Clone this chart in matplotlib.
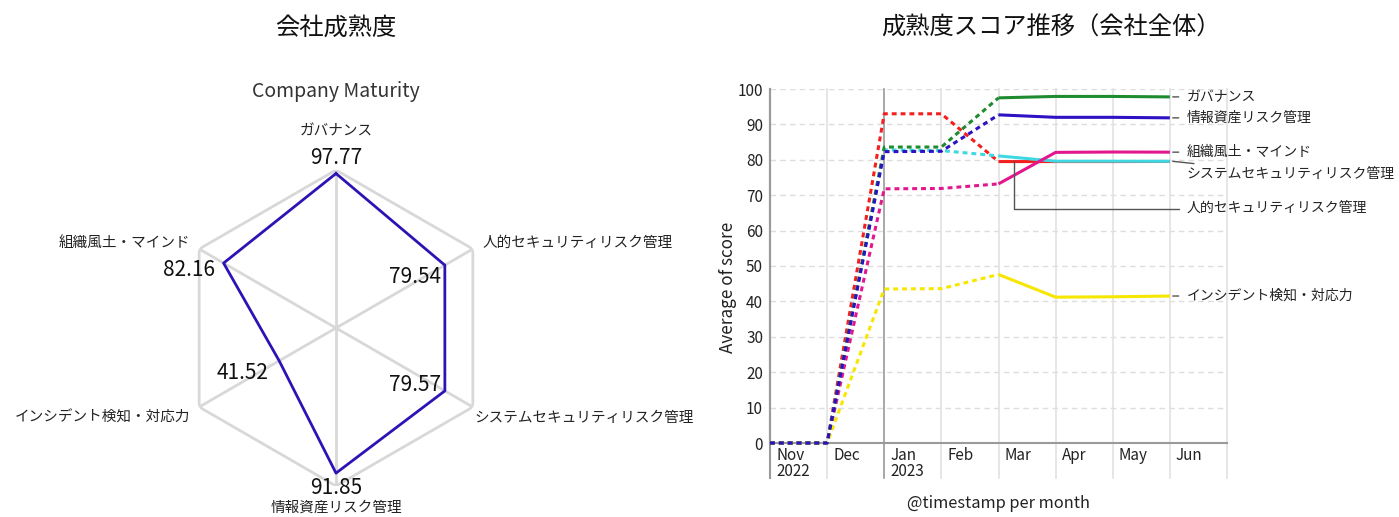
import numpy as np
import matplotlib
matplotlib.use("Agg")
import matplotlib.pyplot as plt

plt.rcParams['font.family'] = ['Noto Sans CJK JP', 'DejaVu Sans']

# ---------------- data ----------------
radar_categories = ['ガバナンス', '人的セキュリティリスク管理', 'システムセキュリティリスク管理',
                    '情報資産リスク管理', 'インシデント検知・対応力', '組織風土・マインド']
radar_values = [97.77, 79.54, 79.57, 91.85, 41.52, 82.16]

months = ['Nov\n2022', 'Dec', 'Jan\n2023', 'Feb', 'Mar', 'Apr', 'May', 'Jun']
series_names = ['人的セキュリティリスク管理', 'システムセキュリティリスク管理', '組織風土・マインド',
                'インシデント検知・対応力', 'ガバナンス', '情報資産リスク管理']
s_jinteki = [0, 0, 93.0, 93.0, 79.5, 79.5, 79.5, 79.54]
s_system = [0, 0, 82.8, 82.6, 81.1, 79.6, 79.6, 79.57]
s_soshiki = [0, 0, 71.8, 71.9, 73.2, 82.1, 82.2, 82.16]
s_incident = [0, 0, 43.5, 43.6, 47.6, 41.2, 41.3, 41.52]
s_gov = [0, 0, 83.6, 83.6, 97.5, 97.9, 97.9, 97.77]
s_joho = [0, 0, 82.3, 82.4, 92.7, 92.0, 92.0, 91.85]
series_values = [s_jinteki, s_system, s_soshiki, s_incident, s_gov, s_joho]
series_colors = ['#f41e1e', '#3fd8e2', '#e2178d', '#f7e700', '#1f8b2f', '#2c12c2']
label_y = [66.1, 76.0, 82.16, 41.52, 97.77, 91.85]

# ---------------- figure ----------------
fig = plt.figure(figsize=(13.99, 5.17), dpi=100)

fig.text(336 / 1399, 1 - 28 / 517, '会社成熟度', ha='center', va='center', fontsize=17.5, color='#111')
fig.text(1051 / 1399, 1 - 28 / 517, '成熟度スコア推移（会社全体）', ha='center', va='center',
         fontsize=17.5, color='#111')
fig.text(336 / 1399, 1 - 91 / 517, 'Company Maturity', ha='center', va='center', fontsize=14,
         color='#333')

# ---------------- radar ----------------
R = 158
axr = fig.add_axes([(336 - R) / 1399, (189 - R) / 517, 2 * R / 1399, 2 * R / 517], projection='polar')
axr.set_theta_zero_location('N')
axr.set_theta_direction(-1)
axr.set_ylim(0, 100)
axr.axis('off')
n = len(radar_categories)
theta = np.arange(n) * 2 * np.pi / n
th_closed = np.append(theta, theta[0])
axr.plot(th_closed, [100] * (n + 1), color='#d8d8d8', lw=2, zorder=1)
for t in theta:
    axr.plot([t, t], [0, 100], color='#d8d8d8', lw=2, zorder=1)
vals_closed = radar_values + [radar_values[0]]
axr.plot(th_closed, vals_closed, color='#2c14b4', lw=2, zorder=3)

cat_off = [(0, 38, 'center'), (10, 6, 'left'), (2, -11, 'left'),
           (0, -22, 'center'), (-9, -11, 'right'), (-9, 6, 'right')]
for t, name, (dx, dy, ha) in zip(theta, radar_categories, cat_off):
    axr.annotate(name, xy=(t, 100), xytext=(dx, dy), textcoords='offset pixels',
                 ha=ha, va='center', fontsize=10.5, color='#222', annotation_clip=False)
val_off = [(0, 16, 'center'), (-4, -12, 'right'), (-4, 6, 'right'),
           (0, -15, 'center'), (-11, -12, 'right'), (-9, -7, 'right')]
for t, v, (dx, dy, ha) in zip(theta, radar_values, val_off):
    axr.annotate(f'{v:.2f}', xy=(t, v), xytext=(dx, dy), textcoords='offset pixels',
                 ha=ha, va='center', fontsize=15, color='#111', annotation_clip=False)

# ---------------- line chart ----------------
ax = fig.add_axes([770 / 1399, (517 - 443) / 517, 457 / 1399, 354 / 517])
x = np.arange(len(months))
ax.set_xlim(0, len(months))
ax.set_ylim(0, 100)
for sp in ['top', 'right']:
    ax.spines[sp].set_visible(False)
ax.spines['left'].set_color('#9a9a9a')
ax.spines['bottom'].set_color('#9a9a9a')
ax.spines['left'].set_linewidth(1.5)
ax.spines['bottom'].set_linewidth(1.5)
ax.set_yticks(np.arange(0, 101, 10))
ax.tick_params(axis='y', length=0, labelsize=11, labelcolor='#222', pad=5)
ax.set_xticks([])
for yv in range(10, 101, 10):
    ax.axhline(yv, color='#dddddd', lw=1, ls=(0, (4, 3)), zorder=0)
ext = -35 / 354
ax.axvline(0, ymin=ext, ymax=1, color='#9a9a9a', lw=1.5, clip_on=False, zorder=0)
for i in range(1, len(months) + 1):
    c = '#9a9a9a' if i == 2 else '#e2e2e2'
    ax.axvline(i, ymin=ext, ymax=1, color=c, lw=1.2, clip_on=False, zorder=0)
for i, m in enumerate(months):
    ax.annotate(m, xy=(i, 0), xytext=(6, -4), textcoords='offset pixels', ha='left', va='top',
                fontsize=11, color='#222', linespacing=0.9, annotation_clip=False)

for vals, col in zip(series_values, series_colors):
    ax.plot(x[:5], vals[:5], color=col, lw=2.2, ls=(0, (1.6, 1.3)), zorder=3, clip_on=False)
    ax.plot(x[4:], vals[4:], color=col, lw=2.2, ls='-', zorder=3, clip_on=False,
            solid_capstyle='butt')

last = len(months) - 1
for name, vals, ly in zip(series_names, series_values, label_y):
    if name == '人的セキュリティリスク管理':
        ax.annotate(name, xy=(4.27, vals[-1]), xytext=(7.3, ly), ha='left', va='center',
                    fontsize=10, color='#222', annotation_clip=False,
                    arrowprops=dict(arrowstyle='-', color='#555', lw=1, shrinkA=4, shrinkB=0,
                                    connectionstyle='angle,angleA=0,angleB=90,rad=0'))
    else:
        ax.annotate(name, xy=(last + 0.05, vals[-1]), xytext=(7.3, ly), ha='left', va='center',
                    fontsize=10, color='#222', annotation_clip=False,
                    arrowprops=dict(arrowstyle='-', color='#555', lw=1, shrinkA=4, shrinkB=0))

ax.set_ylabel('Average of score', fontsize=12.3, color='#222', va='center')
ax.yaxis.set_label_coords(-42 / 457, 0.44)
ax.set_xlabel('@timestamp per month', fontsize=11.8, color='#222', va='center')
ax.xaxis.set_label_coords(0.5, -60 / 354)

fig.savefig('out.png', dpi=100, facecolor='white')
